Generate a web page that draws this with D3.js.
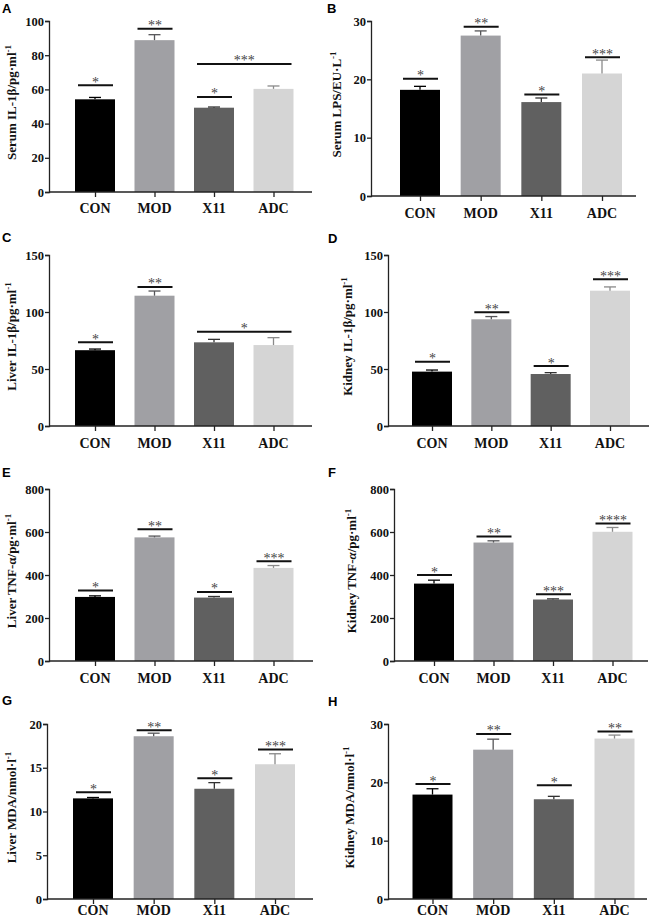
<!DOCTYPE html>
<html><head><meta charset="utf-8">
<script src="https://cdn.jsdelivr.net/npm/d3@7"></script>
<style>html,body{margin:0;padding:0;background:#fff;}svg{display:block;}</style>
</head><body>
<script>
// ---------- data ----------
const categories = ["CON", "MOD", "X11", "ADC"];

const serumIL1b_mean = [54.2, 88.8, 49.3, 60.3];
const serumIL1b_err  = [1.1, 3.2, 0.4, 1.7];
const serumIL1b_sig  = [[0,0,62.4,"*"],[1,1,95.5,"**"],[2,2,55.6,"*"],[2,3,74.9,"***"]];

const serumLPS_mean = [18.2, 27.5, 16.1, 21.0];
const serumLPS_err  = [0.6, 0.8, 0.7, 2.3];
const serumLPS_sig  = [[0,0,20.1,"*"],[1,1,29.0,"**"],[2,2,17.4,"*"],[3,3,23.8,"***"]];

const liverIL1b_mean = [66.5, 114.3, 73.4, 71.0];
const liverIL1b_err  = [1.0, 4.1, 2.6, 6.5];
const liverIL1b_sig  = [[0,0,73.4,"*"],[1,1,122.0,"**"],[2,3,82.7,"*"]];

const kidneyIL1b_mean = [47.7, 93.6, 45.6, 118.7];
const kidneyIL1b_err  = [1.4, 2.4, 1.2, 3.3];
const kidneyIL1b_sig  = [[0,0,56.4,"*"],[1,1,99.7,"**"],[2,2,52.6,"*"],[3,3,128.7,"***"]];

const liverTNF_mean = [298, 575, 295, 433];
const liverTNF_err  = [5, 6, 5, 11];
const liverTNF_sig  = [[0,0,328,"*"],[1,1,613,"**"],[2,2,321,"*"],[3,3,464,"***"]];

const kidneyTNF_mean = [360, 551, 286, 601];
const kidneyTNF_err  = [16, 8, 3, 20];
const kidneyTNF_sig  = [[0,0,400,"*"],[1,1,579,"**"],[2,2,311,"***"],[3,3,640,"****"]];

const liverMDA_mean = [11.5, 18.6, 12.6, 15.4];
const liverMDA_err  = [0.1, 0.35, 0.7, 1.2];
const liverMDA_sig  = [[0,0,12.2,"*"],[1,1,19.3,"**"],[2,2,13.8,"*"],[3,3,17.1,"***"]];

const kidneyMDA_mean = [17.9, 25.6, 17.1, 27.5];
const kidneyMDA_err  = [1.0, 1.8, 0.5, 0.6];
const kidneyMDA_sig  = [[0,0,19.7,"*"],[1,1,28.3,"**"],[2,2,19.5,"*"],[3,3,28.7,"**"]];

const yTicksA = [0,20,40,60,80,100];
const yTicksB = [0,10,20,30];
const yTicksC = [0,50,100,150];
const yTicksE = [0,200,400,600,800];
const yTicksG = [0,5,10,15,20];

// ---------- drawing ----------
const W = 655, H = 922;
const svg = d3.select("body").append("svg").attr("width", W).attr("height", H);
const barFill = ["#000000", "#a0a0a4", "#606060", "#d5d5d5"];
const errStroke = ["#000000", "#555558", "#333333", "#8a8a8a"];
const serif = "'Liberation Serif','Times New Roman',serif";

function drawPanel(cfg) {
  const g = svg.append("g");
  // panel letter
  g.append("text").attr("x", cfg.lx).attr("y", cfg.ly)
    .attr("font-family", "'Liberation Sans',Arial,sans-serif").attr("font-weight", "bold")
    .attr("font-size", 13).text(cfg.letter);

  const y = d3.scaleLinear().domain([0, cfg.ticks[cfg.ticks.length - 1]]).range([cfg.bottom, cfg.top]);
  const x = d3.scalePoint().domain(categories).range([cfg.c0, cfg.c1]);
  const bw = 40;

  // bars
  g.selectAll("rect.bar").data(cfg.mean).join("rect")
    .attr("x", (d, i) => x(categories[i]) - bw / 2)
    .attr("y", d => y(d))
    .attr("width", bw)
    .attr("height", d => y(0) - y(d))
    .attr("fill", (d, i) => barFill[i]);

  // error bars
  cfg.mean.forEach((m, i) => {
    const cx = x(categories[i]);
    g.append("line").attr("x1", cx).attr("x2", cx).attr("y1", y(m)).attr("y2", y(m + cfg.err[i]))
      .attr("stroke", errStroke[i]).attr("stroke-width", 1.3);
    g.append("line").attr("x1", cx - 6).attr("x2", cx + 6).attr("y1", y(m + cfg.err[i])).attr("y2", y(m + cfg.err[i]))
      .attr("stroke", errStroke[i]).attr("stroke-width", 1.3);
  });

  // significance
  cfg.sig.forEach(s => {
    const xa = x(categories[s[0]]) - 17, xb = x(categories[s[1]]) + 18;
    const yy = y(s[2]);
    g.append("line").attr("x1", xa).attr("x2", xb).attr("y1", yy).attr("y2", yy)
      .attr("stroke", "#111").attr("stroke-width", 2);
    g.append("text").attr("x", (xa + xb) / 2).attr("y", yy + 1.5)
      .attr("text-anchor", "middle").attr("font-family", serif).attr("font-size", 14)
      .attr("fill", "#444").text(s[3]);
  });

  // y axis
  const ya = g.append("g").attr("transform", `translate(${cfg.ax},0)`)
    .call(d3.axisLeft(y).tickValues(cfg.ticks).tickSize(4).tickPadding(1).tickFormat(d3.format("d")));
  ya.select(".domain").attr("stroke", "#222").attr("stroke-width", 1.3);
  ya.selectAll(".tick line").attr("stroke", "#222").attr("stroke-width", 1.3);
  ya.selectAll(".tick text").attr("font-family", serif).attr("font-weight", "bold")
    .attr("font-size", 12.5).attr("fill", "#111");

  // x axis
  const xs = d3.scaleLinear().domain([cfg.ax, cfg.xEnd]).range([cfg.ax, cfg.xEnd]);
  const xa = g.append("g").attr("transform", `translate(0,${cfg.bottom})`);
  xa.append("line").attr("x1", cfg.ax).attr("x2", cfg.xEnd).attr("stroke", "#222").attr("stroke-width", 1.3);
  const xaxis = g.append("g").attr("transform", `translate(0,${cfg.bottom})`)
    .call(d3.axisBottom(x).tickSize(5).tickPadding(0).tickFormat(() => ""));
  xaxis.select(".domain").remove();
  xaxis.selectAll(".tick line").attr("stroke", "#222").attr("stroke-width", 1.3);
  categories.forEach(c => {
    g.append("text").attr("x", x(c)).attr("y", cfg.bottom + cfg.xlo)
      .attr("text-anchor", "middle").attr("font-family", serif).attr("font-weight", "bold")
      .attr("font-size", 14).attr("fill", "#111").text(c);
  });

  // y label
  const mid = (cfg.top + cfg.bottom) / 2 - 4;
  const t = g.append("text").attr("transform", `translate(${cfg.ylx},${mid}) rotate(-90)`)
    .attr("text-anchor", "middle").attr("font-family", serif).attr("font-weight", "bold")
    .attr("font-size", 13).attr("fill", "#111");
  cfg.ylab.forEach(p => {
    const ts = t.append("tspan").text(p.t);
    if (p.sup) ts.attr("font-size", 9).attr("dy", -5);
    if (p.it) ts.attr("font-style", "italic");
  });
}

const sup = {t: "-1", sup: true};

drawPanel({letter: "A", lx: 2, ly: 13, ax: 49, xEnd: 312, c0: 95, c1: 273.5, top: 21, bottom: 192,
  ticks: yTicksA, mean: serumIL1b_mean, err: serumIL1b_err, sig: serumIL1b_sig, xlo: 21, ylx: 16,
  ylab: [{t: "Serum IL-1β/pg·ml"}, sup]});
drawPanel({letter: "B", lx: 327, ly: 13, ax: 371, xEnd: 636, c0: 420, c1: 602, top: 21, bottom: 196,
  ticks: yTicksB, mean: serumLPS_mean, err: serumLPS_err, sig: serumLPS_sig, xlo: 22, ylx: 341,
  ylab: [{t: "Serum LPS/EU·L"}, sup]});
drawPanel({letter: "C", lx: 2, ly: 242, ax: 49, xEnd: 312, c0: 95, c1: 273.5, top: 255, bottom: 426,
  ticks: yTicksC, mean: liverIL1b_mean, err: liverIL1b_err, sig: liverIL1b_sig, xlo: 22, ylx: 16,
  ylab: [{t: "Liver IL-1β/pg·ml"}, sup]});
drawPanel({letter: "D", lx: 328, ly: 243, ax: 388, xEnd: 649, c0: 432, c1: 610, top: 255, bottom: 426,
  ticks: yTicksC, mean: kidneyIL1b_mean, err: kidneyIL1b_err, sig: kidneyIL1b_sig, xlo: 22, ylx: 352,
  ylab: [{t: "Kidney IL-1β/pg·ml"}, sup]});
drawPanel({letter: "E", lx: 2, ly: 477, ax: 49, xEnd: 313, c0: 95, c1: 273.5, top: 489, bottom: 661,
  ticks: yTicksE, mean: liverTNF_mean, err: liverTNF_err, sig: liverTNF_sig, xlo: 22, ylx: 16,
  ylab: [{t: "Liver TNF-α/pg·ml"}, sup]});
drawPanel({letter: "F", lx: 328, ly: 477, ax: 394, xEnd: 648, c0: 434, c1: 612.5, top: 489, bottom: 661,
  ticks: yTicksE, mean: kidneyTNF_mean, err: kidneyTNF_err, sig: kidneyTNF_sig, xlo: 22, ylx: 356,
  ylab: [{t: "Kidney TNF-"}, {t: "α", it: true}, {t: "/pg·ml"}, sup]});
drawPanel({letter: "G", lx: 2, ly: 705, ax: 47, xEnd: 313, c0: 93, c1: 275, top: 724, bottom: 899,
  ticks: yTicksG, mean: liverMDA_mean, err: liverMDA_err, sig: liverMDA_sig, xlo: 16, ylx: 16,
  ylab: [{t: "Liver MDA/nmol·l"}, sup]});
drawPanel({letter: "H", lx: 328, ly: 706, ax: 388, xEnd: 647, c0: 432.5, c1: 614.5, top: 724, bottom: 899,
  ticks: yTicksB, mean: kidneyMDA_mean, err: kidneyMDA_err, sig: kidneyMDA_sig, xlo: 16, ylx: 354,
  ylab: [{t: "Kidney MDA/nmol·l"}, sup]});
</script>
</body></html>
